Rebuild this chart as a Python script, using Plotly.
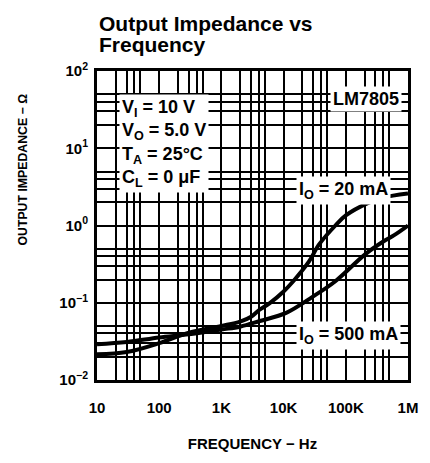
import plotly.graph_objects as go

# ---- data ----
freq_20ma = [10, 30, 100, 300, 1000, 2000, 3000, 4000, 6000, 10000, 14300, 25500, 36700, 68000, 100000, 225000, 400000, 1000000]
z_20ma = [0.0215, 0.023, 0.030, 0.041, 0.050, 0.057, 0.066, 0.080, 0.099, 0.14, 0.19, 0.34, 0.56, 1.0, 1.35, 1.95, 2.3, 2.6]

freq_500ma = [10, 30, 100, 300, 1000, 2000, 4150, 11000, 29500, 68000, 202000, 400000, 600000, 1000000]
z_500ma = [0.029, 0.031, 0.0355, 0.039, 0.045, 0.049, 0.058, 0.074, 0.12, 0.19, 0.42, 0.62, 0.75, 1.0]

x_tickvals = [10, 100, 1000, 10000, 100000, 1000000]
x_ticktext = ["10", "100", "1K", "10K", "100K", "1M"]
y_tickvals = [0.01, 0.1, 1, 10, 100]
y_ticktext = ["10<sup>−2</sup>", "10<sup>−1</sup>", "10<sup>0</sup>", "10<sup>1</sup>", "10<sup>2</sup>"]

FONT = "Liberation Sans, Arial, sans-serif"

x_minor = [m * 10 ** e for e in range(1, 6) for m in (2, 3, 4, 5)]
y_minor = [m * 10.0 ** e for e in range(-2, 2) for m in (2, 3, 4, 5)]

fig = go.Figure()
for f, z in ((freq_20ma, z_20ma), (freq_500ma, z_500ma)):
    fig.add_trace(go.Scatter(x=f, y=z, mode="lines",
                             line=dict(color="black", width=4, shape="spline", smoothing=1.0),
                             showlegend=False, hoverinfo="skip"))

axis_common = dict(
    type="log", showgrid=True, gridcolor="black", gridwidth=2,
    showline=True, mirror=True, linecolor="black", linewidth=3,
    ticks="", zeroline=False,
)

fig.update_xaxes(**axis_common, range=[1, 6], tickmode="array",
                 tickvals=x_tickvals, ticktext=x_ticktext,
                 tickfont=dict(family=FONT, size=15, color="black", weight="bold"),
                 ticklabelstandoff=12,
                 minor=dict(tickmode="array", tickvals=x_minor, showgrid=True,
                            gridcolor="black", gridwidth=1.5, ticks=""),
                 title=dict(text="FREQUENCY − Hz", standoff=24,
                            font=dict(family=FONT, size=15, color="black", weight="bold")))
fig.update_yaxes(**axis_common, range=[-2, 2], tickmode="array",
                 tickvals=y_tickvals, ticktext=y_ticktext,
                 tickfont=dict(family=FONT, size=15, color="black", weight="bold"),
                 ticklabelstandoff=3,
                 minor=dict(tickmode="array", tickvals=y_minor, showgrid=True,
                            gridcolor="black", gridwidth=1.5, ticks=""))

txt_font = dict(family=FONT, size=18, color="black", weight="bold")
anns = [
    dict(x=1.36, y=1.70, xref="x", yref="y", xanchor="left", yanchor="top", align="left",
         text="V<sub>I</sub> = 10 V<br>V<sub>O</sub> = 5.0 V<br>T<sub>A</sub> = 25°C<br>C<sub>L</sub> = 0 μF",
         bgcolor="white", borderpad=2, font=txt_font, showarrow=False),
    dict(x=5.33, y=1.635, xref="x", yref="y", text="LM7805",
         bgcolor="white", borderpad=2, font=txt_font, showarrow=False),
    dict(x=4.96, y=0.45, xref="x", yref="y", text="I<sub>O</sub> = 20 mA",
         bgcolor="white", borderpad=2, font=txt_font, showarrow=False),
    dict(x=5.04, y=-1.43, xref="x", yref="y", text="I<sub>O</sub> = 500 mA",
         bgcolor="white", borderpad=2, font=txt_font, showarrow=False),
    dict(x=0, y=1.0 + (63 - 14) / 318, xref="paper", yref="paper", xanchor="left", yanchor="middle",
         text="Output Impedance vs", showarrow=False,
         font=dict(family=FONT, size=21, color="black", weight="bold")),
    dict(x=0, y=1.0 + (63 - 36) / 318, xref="paper", yref="paper", xanchor="left", yanchor="middle",
         text="Frequency", showarrow=False,
         font=dict(family=FONT, size=21, color="black", weight="bold")),
    dict(x=-(97 - 22) / 317, y=(381 - 164) / 318, xref="paper", yref="paper",
         xanchor="center", yanchor="middle", textangle=-90,
         text="OUTPUT IMPEDANCE − Ω", showarrow=False,
         font=dict(family=FONT, size=12.3, color="black", weight="bold")),
]
# page body has an 8px margin, so the figure is 8px smaller and margins reduced
fig.update_layout(
    width=422, height=455,
    margin=dict(l=89, r=16, t=63, b=74),
    paper_bgcolor="white", plot_bgcolor="white",
    annotations=anns,
)

fig.write_html("out.html")
